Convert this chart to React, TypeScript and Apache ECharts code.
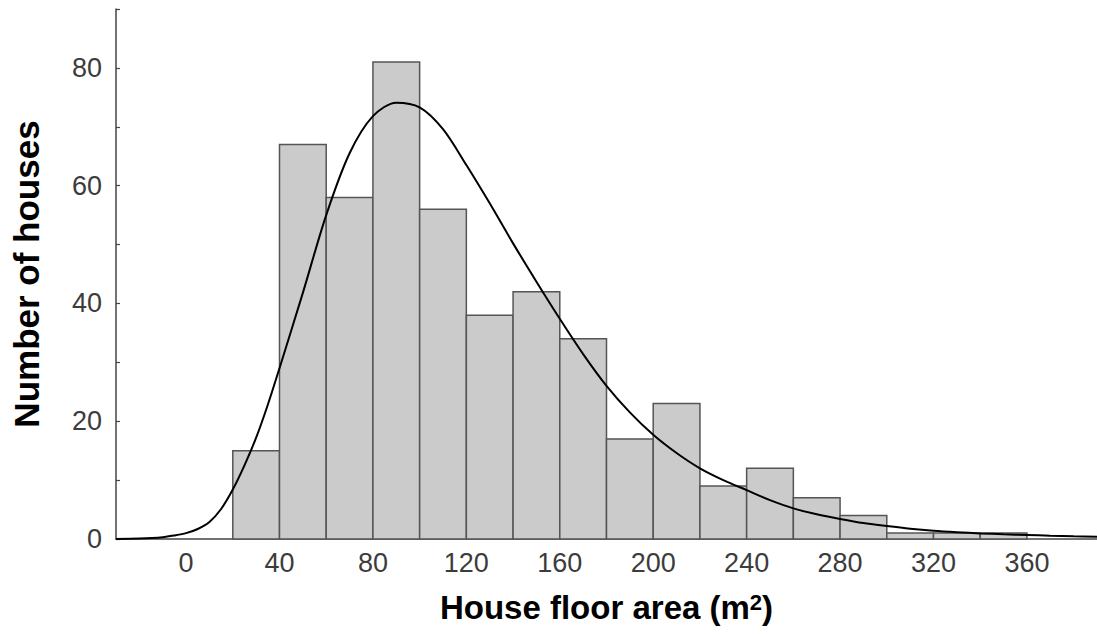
import React, { useEffect, useRef } from "react";
import * as echarts from "echarts";

// Histogram bins (house floor area, m²)
const binLeft = [20, 40, 60, 80, 100, 120, 140, 160, 180, 200, 220, 240, 260, 280, 300, 320, 340];
const binRight = [40, 60, 80, 100, 120, 140, 160, 180, 200, 220, 240, 260, 280, 300, 320, 340, 360];
const counts = [15, 67, 58, 81, 56, 38, 42, 34, 17, 23, 9, 12, 7, 4, 1, 1, 1];

// Fitted density curve
const fitX = [-30, -20, -10, -5, 0, 5, 10, 15, 20, 25, 30, 35, 40, 50, 60, 70, 80, 90, 100, 110, 120, 130, 140, 150, 160, 170, 180, 190, 200, 210, 220, 230, 240, 250, 260, 270, 280, 290, 300, 310, 320, 330, 340, 350, 360, 370, 380, 390];
const fitY = [0.02, 0.08, 0.3, 0.6, 1.0, 1.7, 2.9, 5.1, 8.4, 12.5, 17.2, 22.8, 29.0, 41.8, 55.0, 65.5, 71.8, 74.1, 73.3, 69.6, 63.5, 57.0, 50.2, 43.7, 37.4, 31.4, 26.0, 21.5, 17.7, 14.6, 12.0, 10.0, 8.3, 6.6, 5.2, 4.2, 3.4, 2.7, 2.2, 1.75, 1.4, 1.15, 0.95, 0.8, 0.68, 0.57, 0.48, 0.4];

const xTickLabels = [0, 40, 80, 120, 160, 200, 240, 280, 320, 360];
const yTickLabels = [0, 20, 40, 60, 80];
const yTickMarks = [0, 10, 20, 30, 40, 50, 60, 70, 80, 90];

export default function App() {
  const ref = useRef<HTMLDivElement>(null);
  useEffect(() => {
    document.body.style.margin = "0";
    if (!ref.current) return;
    const chart = echarts.init(ref.current, null, { renderer: "svg" });
    const barData = binLeft.map((l, i) => [l, binRight[i], counts[i]]);
    const lineData = fitX.map((x, i) => [x, fitY[i]]);
    chart.setOption({
      animation: false,
      backgroundColor: "#ffffff",
      grid: { left: 116, right: 0, top: 9, bottom: 95 },
      xAxis: {
        type: "value",
        min: -30,
        max: 390,
        name: "House floor area (m{sup|2})",
        nameLocation: "middle",
        nameGap: 52,
        nameTextStyle: {
          fontFamily: "Liberation Sans",
          fontWeight: "bold",
          fontSize: 33,
          color: "#000",
          rich: {
            sup: { fontFamily: "Liberation Sans", fontWeight: "bold", fontSize: 22, color: "#000", verticalAlign: "top", padding: [0, 0, 10, 0] },
          },
        },
        axisLine: { show: true, onZero: false, lineStyle: { color: "#444", width: 1.5 } },
        axisTick: { show: false },
        splitLine: { show: false },
        axisLabel: {
          customValues: xTickLabels,
          fontFamily: "Liberation Sans",
          fontSize: 27,
          color: "#3c3c3c",
          margin: 10,
        },
      },
      yAxis: {
        type: "value",
        min: 0,
        max: 90,
        name: "Number of houses",
        nameLocation: "middle",
        nameGap: 72,
        nameTextStyle: { fontFamily: "Liberation Sans", fontWeight: "bold", fontSize: 35, color: "#000" },
        axisLine: { show: true, onZero: false, lineStyle: { color: "#444", width: 1.5 } },
        axisTick: { show: true, inside: true, length: 4, customValues: yTickMarks, lineStyle: { color: "#444", width: 1.2 } },
        splitLine: { show: false },
        axisLabel: {
          customValues: yTickLabels,
          fontFamily: "Liberation Sans",
          fontSize: 27,
          color: "#3c3c3c",
          margin: 14,
        },
      },
      series: [
        {
          type: "custom",
          data: barData,
          encode: { x: [0, 1], y: 2 },
          renderItem: (params: any, api: any) => {
            const p0 = api.coord([api.value(0), api.value(2)]);
            const p1 = api.coord([api.value(1), 0]);
            return {
              type: "rect",
              shape: { x: p0[0], y: p0[1], width: p1[0] - p0[0], height: p1[1] - p0[1] },
              style: { fill: "#cbcbcb", stroke: "#555555", lineWidth: 1.5 },
            };
          },
          z: 2,
        },
        {
          type: "line",
          data: lineData,
          smooth: 0.3,
          showSymbol: false,
          symbol: "none",
          lineStyle: { color: "#000", width: 2 },
          z: 3,
        },
      ],
    });
    return () => chart.dispose();
  }, []);
  return <div ref={ref} style={{ width: 1097, height: 634 }} />;
}
